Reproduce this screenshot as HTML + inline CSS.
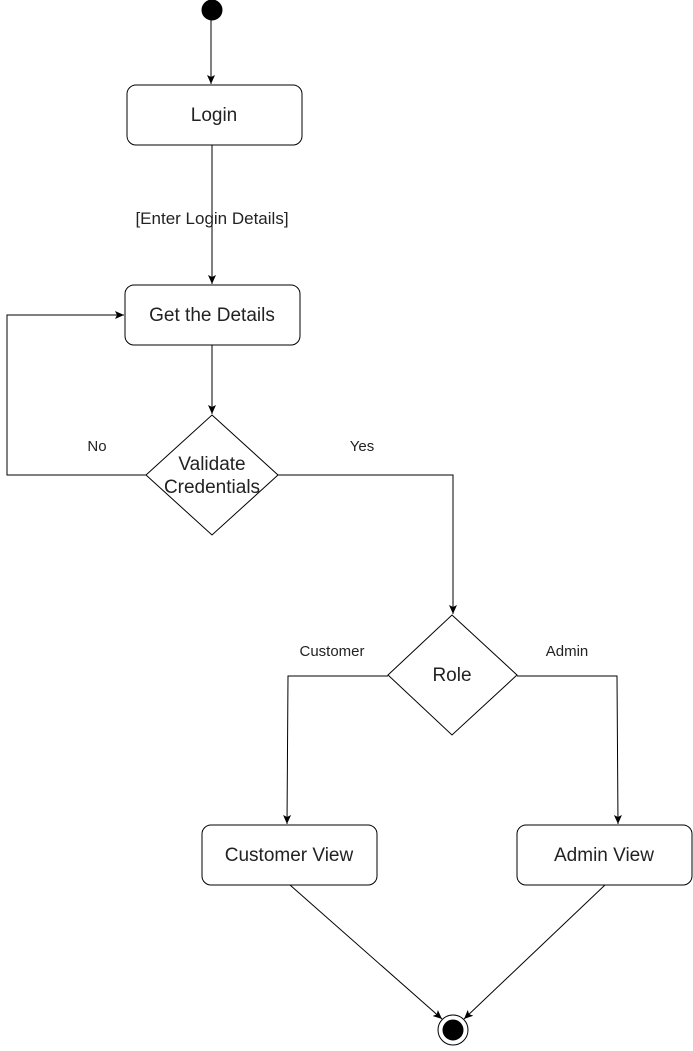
<!DOCTYPE html>
<html><head><style>body{margin:0;background:#fff}</style></head><body>
<svg width="693" height="1046" xmlns="http://www.w3.org/2000/svg" font-family="Liberation Sans, sans-serif">
<defs><marker id="a" markerWidth="10" markerHeight="10" refX="9" refY="5" orient="auto" markerUnits="userSpaceOnUse"><path d="M0,1 L9,5 L0,9 L2,5 z" fill="#000"/></marker></defs>
<g fill="none" stroke="#000" stroke-width="1">
<circle cx="212" cy="10" r="10" fill="#000"/>
<line x1="211" y1="20" x2="211" y2="84" marker-end="url(#a)"/>
<rect x="127" y="85" width="175" height="60" rx="9"/>
<line x1="212" y1="145" x2="212" y2="284" marker-end="url(#a)"/>
<rect x="125" y="285" width="175" height="60" rx="9"/>
<line x1="212" y1="345" x2="212" y2="414" marker-end="url(#a)"/>
<polygon points="212,415 278,475 212,535 146,475"/>
<polyline points="146,475 7,475 7,315 124,315" marker-end="url(#a)"/>
<polyline points="278,475 453,475 453,614" marker-end="url(#a)"/>
<polygon points="452,615 517,675 452,735 388,675"/>
<polyline points="388,676 288,676 287,824" marker-end="url(#a)"/>
<polyline points="517,676 617,676 618,824" marker-end="url(#a)"/>
<rect x="202" y="825" width="175" height="60" rx="9"/>
<rect x="517" y="825" width="175" height="60" rx="9"/>
<line x1="290" y1="885" x2="442" y2="1019" marker-end="url(#a)"/>
<line x1="605" y1="885" x2="464" y2="1019" marker-end="url(#a)"/>
<circle cx="453" cy="1030" r="15"/>
<circle cx="453" cy="1030" r="10" fill="#000"/>
</g>
<g font-size="19" text-anchor="middle" fill="#222">
<text x="214" y="121">Login</text>
<text x="212" y="321">Get the Details</text>
<text x="212" y="470">Validate</text>
<text x="212" y="493">Credentials</text>
<text x="452" y="681">Role</text>
<text x="289" y="861">Customer View</text>
<text x="604" y="861">Admin View</text>
</g>
<g font-size="15" text-anchor="middle" fill="#222">
<text x="212" y="224" font-size="17">[Enter Login Details]</text>
<text x="97" y="451">No</text>
<text x="362" y="451">Yes</text>
<text x="332" y="656">Customer</text>
<text x="567" y="656">Admin</text>
</g>
</svg>
</body></html>
